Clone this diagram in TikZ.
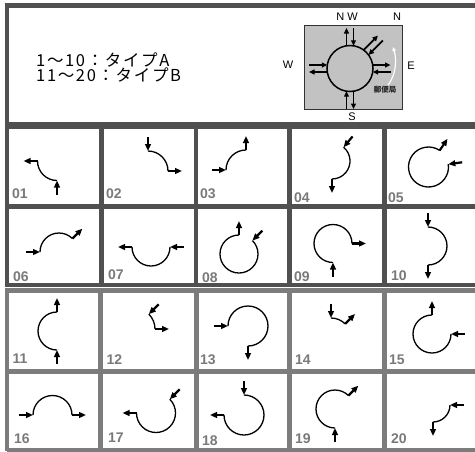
\documentclass[tikz,border=0pt]{standalone}
\usepackage{fontspec}
\setmainfont{Liberation Sans}
\newfontfamily\jpfont{Noto Sans CJK JP}
\newfontfamily\jpwide[LetterSpace=10]{Noto Sans CJK JP}
\usepackage{xcolor}
\usetikzlibrary{arrows.meta}
\definecolor{frameA}{HTML}{505050}
\definecolor{frameB}{HTML}{7C7C7C}
\definecolor{labgray}{HTML}{7A7A7A}
\definecolor{mapgray}{HTML}{C2C2C2}
\tikzset{
  stub/.style={line width=2.2pt, -{Triangle[length=7pt,width=5.8pt]}},
  turnline/.style={line width=1.3pt},
  armarrow/.style={line width=1.8pt, -{Triangle[length=5.5pt,width=5pt]}},
  celllabel/.style={anchor=base west, inner sep=0pt, text=labgray, font=\bfseries\fontsize{14}{14}\selectfont},
  dirlabel/.style={inner sep=0pt, font=\fontsize{11}{11}\selectfont},
  toptext/.style={anchor=west, inner sep=0pt, font=\jpwide\fontsize{16.5}{16.5}\selectfont},
}
% one manoeuvre: centre x, centre y, radius, entry angle, exit angle
\newcommand{\rbturn}[5]{%
  \begin{scope}[shift={(#1,#2)}]
    \pgfmathsetmacro{\rbout}{#3+14}
    \draw[stub] (#4:\rbout) -- (#4:#3);
    \draw[turnline] (#4:#3) arc[start angle=#4, end angle=#5, radius=#3];
    \draw[stub] (#5:#3) -- (#5:\rbout);
  \end{scope}}
% one arm of the map: angle, outer radius
\newcommand{\rbarm}[2]{%
  \begin{scope}[shift={(350,68.5)}, rotate=#1]
    \draw[armarrow] (22.7,-3.5) -- (#2,-3.5);
    \draw[armarrow] (#2,3.5) -- (22.7,3.5);
  \end{scope}}

\begin{document}
\begin{tikzpicture}[x=1pt, y=1pt, yscale=-1]
  \useasboundingbox (0,0) rectangle (475,451);
  \fill[white] (0,0) rectangle (475,451);

  % lower grid (11-20)
  \draw[frameB, line width=5pt] (7,290.5) -- (482,290.5);
  \draw[frameB, line width=5pt] (7,371.5) -- (482,371.5);
  \draw[frameB, line width=4pt] (7,449.5) -- (482,449.5);
  \draw[frameB, line width=4.5pt] (7,288) -- (7,451);
  \draw[frameB, line width=4.5pt] (100.5,288) -- (100.5,451);
  \draw[frameB, line width=4.5pt] (196.5,288) -- (196.5,451);
  \draw[frameB, line width=4.5pt] (289.5,288) -- (289.5,451);
  \draw[frameB, line width=4.5pt] (384.5,288) -- (384.5,451);

  % upper frame and grid (1-10)
  \draw[frameA, line width=5pt] (4.5,5.8) -- (482,5.8);
  \draw[frameA, line width=7pt] (4.5,125.5) -- (482,125.5);
  \draw[frameA, line width=5pt] (4.5,206.5) -- (482,206.5);
  \draw[frameA, line width=4pt] (4.5,285) -- (482,285);
  \draw[frameA, line width=4.5pt] (6.8,3.3) -- (6.8,287);
  \draw[frameA, line width=4.5pt] (101.5,125.5) -- (101.5,287);
  \draw[frameA, line width=4.5pt] (196,125.5) -- (196,287);
  \draw[frameA, line width=4.5pt] (289.5,125.5) -- (289.5,287);
  \draw[frameA, line width=4.5pt] (384.5,125.5) -- (384.5,287);

  % legend
  \node[toptext] (typeA) at (36,60.5) {1〜10：タイプA};
  \node[toptext] (typeB) at (36,75.5) {11〜20：タイプB};

  % map of the roundabout
  \draw[fill=mapgray, draw=black!80, line width=0.8pt] (304,25) rectangle (402,109);
  \draw[line width=1.5pt] (350,68.5) circle[radius=23];
  \rbarm{270}{40.5}
  \rbarm{0}{40.5}
  \rbarm{180}{41}
  \rbarm{90}{40.5}
  \rbarm{315}{43}
  \draw[white, line width=1.2pt, -{Triangle[length=4pt,width=3.5pt]}] (388,85) .. controls (396,75) and (397,60) .. (393,47);
  \node[inner sep=0pt, text=black!85, font=\jpfont\bfseries\fontsize{7.5}{7.5}\selectfont] (post) at (385,89.5) {郵便局};
  \node[dirlabel] (nw) at (347,17) {N W};
  \node[dirlabel] (n) at (397,17) {N};
  \node[dirlabel] (w) at (288,65) {W};
  \node[dirlabel] (e) at (411,66) {E};
  \node[dirlabel] (s) at (352,116.5) {S};

  % cell numbers
  \foreach \lab/\lx/\ly in {01/12/198, 02/106/198, 03/200/198, 04/294/202, 05/388/202,
      06/13/281, 07/108/279, 08/202/282, 09/294/281, 10/391/280,
      11/12.5/363, 12/106.5/364, 13/200/364, 14/295/364, 15/389/364,
      16/14/443, 17/108/442, 18/202/445, 19/295/443, 20/391/443}
    \node[celllabel] (lab\lab) at (\lx,\ly) {\lab};

  % manoeuvres
  \rbturn{57}{161}{19.5}{90}{180}
  \rbturn{148}{171}{20}{270}{360}
  \rbturn{246}{170}{20}{180}{270}
  \rbturn{332}{161}{18}{310}{450}
  \rbturn{428.5}{167}{20}{-8}{304}
  \rbturn{59}{252}{19}{180}{315}
  \rbturn{151}{247}{19}{0}{180}
  \rbturn{239}{254}{19}{315}{630}
  \rbturn{333}{243.5}{19}{90}{360}
  \rbturn{428}{246}{19}{270}{450}
  \rbturn{57}{331}{19}{90}{270}
  \rbturn{134}{329}{21}{315}{360}
  \rbturn{248}{326}{20}{180}{450}
  \rbturn{331}{338}{20}{270}{315}
  \rbturn{432}{334}{19}{0}{270}
  \rbturn{52.5}{415}{19.5}{180}{360}
  \rbturn{156}{413}{19.5}{315}{540}
  \rbturn{244}{415}{20}{270}{540}
  \rbturn{335}{409}{19}{90}{315}
  \rbturn{433}{405}{17}{0}{90}
\end{tikzpicture}
\end{document}
